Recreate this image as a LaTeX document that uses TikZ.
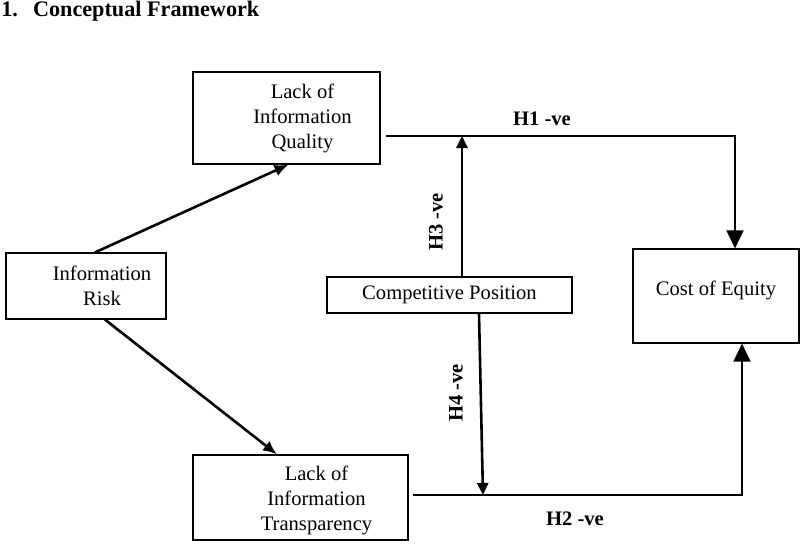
\documentclass[tikz,border=0pt]{standalone}
\usepackage{fontspec}
\setmainfont{Liberation Serif}
\usetikzlibrary{arrows.meta}

\begin{document}
\begin{tikzpicture}[x=0.5pt,y=-0.5pt,
    box/.style={draw,line width=0.6pt,inner sep=0pt},
    txt/.style={align=center,inner sep=0pt,font=\fontsize{10.3}{12.5}\selectfont},
    hyp/.style={inner sep=0pt,font=\fontsize{10.3}{12}\selectfont\bfseries},
    link/.style={line width=1.3pt,-{Latex[length=7pt,width=6pt]}},
    bigtip/.style={line width=0.9pt,-{Triangle[length=9pt,width=8.5pt]}},
    smalltip/.style={line width=1.3pt,-{Triangle[length=6pt,width=5.5pt]}}]
    \useasboundingbox (0,0) rectangle (800,543);
    % Title
    \node[anchor=base west,inner sep=0pt,font=\fontsize{11.1}{13}\selectfont\bfseries]
        (title) at (1,16) {1.\hspace{7.5pt}Conceptual Framework};
    % Boxes
    \node[box,minimum width=93.5pt,minimum height=46pt] (liq) at (286.5,118) {};
    \node[txt] (liqtext) at ([xshift=8pt]liq.center) {Lack of\\Information\\Quality};
    \node[box,minimum width=80pt,minimum height=33pt] (ir) at (86,286) {};
    \node[txt] (irtext) at ([xshift=8pt]ir.center) {Information\\Risk};
    \node[box,minimum width=107.5pt,minimum height=42.5pt] (lit) at (300.5,497.5) {};
    \node[txt] (littext) at ([xshift=8pt,yshift=-1.5pt]lit.center) {Lack of\\Information\\Transparency};
    \node[box,minimum width=122.5pt,minimum height=18pt] (cp) at (449.5,295) {};
    \node[txt] (cptext) at (cp.center) {Competitive Position};
    \node[box,minimum width=83pt,minimum height=47pt] (coe) at (716,296) {};
    \node[txt] (coetext) at ([yshift=3pt]coe.center) {Cost of Equity};
    % Corners of the hypothesis lines
    \coordinate (h1corner) at (735,136);
    \coordinate (h2corner) at (742,495);
    \coordinate (h3top) at (462,136);
    \coordinate (h4end) at (483,495);
    % Arrows
    \draw[link] ([xshift=4.5pt]ir.north) -- ([xshift=1pt]liq.south);
    \draw[link] ([xshift=9.5pt]ir.south) -- ([xshift=-11.75pt]lit.north);
    \draw[bigtip] ([xshift=2.5pt]liq.east |- h1corner) -- (h1corner) -- (h1corner |- coe.north);
    \draw[bigtip] ([xshift=2pt]lit.east |- h2corner) -- (h2corner) -- (h2corner |- coe.south);
    \draw[smalltip] (h3top |- cp.north) -- (h3top);
    \draw[smalltip] ([xshift=14.75pt]cp.south) -- (h4end);
    % Labels
    \node[hyp] (h1) at (542,119) {H1 -ve};
    \node[hyp] (h2) at (575,519) {H2 -ve};
    \node[hyp,rotate=90] (h3) at (436,222) {H3 -ve};
    \node[hyp,rotate=90] (h4) at (456,393) {H4 -ve};
\end{tikzpicture}
\end{document}
